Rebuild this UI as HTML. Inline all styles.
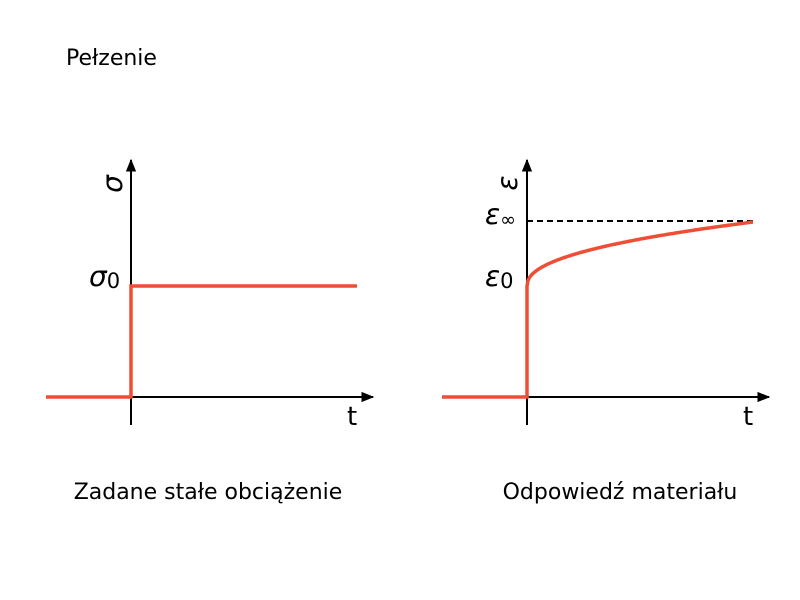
<!DOCTYPE html>
<html><head><meta charset="utf-8"><style>
html,body{margin:0;padding:0;background:#fff;}
svg{display:block;font-family:"DejaVu Sans","Liberation Sans",sans-serif;}
</style></head><body>
<svg width="800" height="600" viewBox="0 0 800 600" xmlns="http://www.w3.org/2000/svg">
<defs>
<marker id="a" viewBox="0 0 10 10" refX="9" refY="5" markerWidth="13" markerHeight="13" markerUnits="userSpaceOnUse" orient="auto"><path d="M0,1 L10,5 L0,9 Z" fill="#000"/></marker>
</defs>
<text x="66" y="65" font-size="22">Pełzenie</text>
<line x1="131" y1="425" x2="131" y2="160" stroke="#000" stroke-width="2" marker-end="url(#a)"/>
<line x1="46" y1="397" x2="373" y2="397" stroke="#000" stroke-width="2" marker-end="url(#a)"/>
<polyline points="46,397 131,397 131,286 357,286" fill="none" stroke="#ee4e36" stroke-width="3.5"/>
<text x="347" y="425" font-size="26">t</text>
<text x="89" y="286" font-size="28" font-style="italic">σ<tspan font-style="normal" font-size="21" dy="2">0</tspan></text>
<text transform="translate(122,184) rotate(-90)" font-size="28" font-style="italic" text-anchor="middle">σ</text>
<text x="208" y="499" font-size="22" text-anchor="middle">Zadane stałe obciążenie</text>
<line x1="527" y1="425" x2="527" y2="160" stroke="#000" stroke-width="2" marker-end="url(#a)"/>
<line x1="442" y1="397" x2="769" y2="397" stroke="#000" stroke-width="2" marker-end="url(#a)"/>
<line x1="527" y1="221" x2="753" y2="221" stroke="#000" stroke-width="2" stroke-dasharray="6,4"/>
<path id="c" d="" fill="none" stroke="#ee4e36" stroke-width="3.5"/>
<text x="743" y="425" font-size="26">t</text>
<text x="485" y="286" font-size="28" font-style="italic">ε<tspan font-style="normal" font-size="21" dy="2">0</tspan></text>
<text x="485" y="224" font-size="28" font-style="italic">ε<tspan font-style="normal" font-size="19" dy="2">∞</tspan></text>
<text transform="translate(517,183) rotate(-90)" font-size="28" font-style="italic" text-anchor="middle">ε</text>
<text x="620" y="499" font-size="22" text-anchor="middle">Odpowiedź materiału</text>
</svg>
<script>
var d="M442,397 L527,397 L527,286";
for(var i=1;i<=200;i++){var f=i/200;var x=527+226*f;var y=286-64*Math.pow(f,0.45);d+=" L"+x.toFixed(1)+","+y.toFixed(1);}
document.getElementById("c").setAttribute("d",d);
</script>
</body></html>
